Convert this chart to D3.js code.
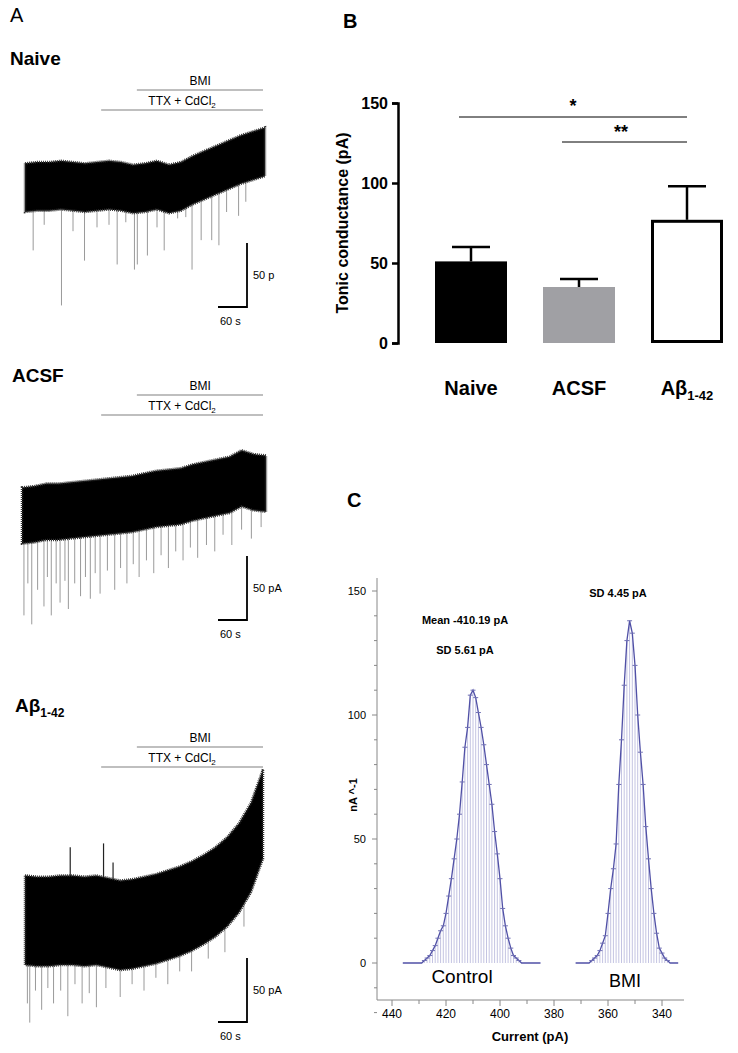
<!DOCTYPE html>
<html><head><meta charset="utf-8">
<script src="https://cdn.jsdelivr.net/npm/d3@7"></script>
<style>body{margin:0;background:#fff}svg{font-family:Arial,"Liberation Sans",sans-serif}</style>
</head><body>
<svg id="fig" width="738" height="1053"></svg>
<script>
// ---- panel A: traces (time in s, current in pA relative to trace base)
const traceTimes = [0, 25, 50, 75, 100, 125, 150, 175, 200, 225, 250, 275, 300, 325, 350, 375, 400, 425, 450, 475, 500];
const naiveMid = [19, 20, 20, 21, 20, 19, 20, 21, 20, 18, 19, 21, 18, 20, 25, 29, 33, 37, 41, 44, 47];
const acsfMid = [23, 24, 26, 26, 27, 28, 29, 30, 31, 32, 34, 36, 37, 38, 41, 43, 45, 47, 52, 49, 48];
const abetaMid = [35, 34, 34, 35, 35, 34, 35, 33, 31, 32, 34, 36, 39, 42, 46, 51, 57, 65, 76, 92, 118];
const halfWidths = [19, 22, 35];
// spikes: [time s, lowest pA]
const naiveSpikes = [[17,-30],[40,-10],[76,-73],[100,-15],[124,-38],[150,-12],[175,-10],[192,-41],[210,-8],[228,-45],[234,-41],[255,-34],[275,-12],[290,-30],[318,-5],[335,-4],[348,-45],[367,-22],[389,-22],[404,-26],[420,0],[445,-3],[460,8]];
const acsfSpikes = [[4,-55],[12,-30],[20,-62],[32,-35],[45,-48],[52,-25],[60,-55],[70,-30],[78,-45],[88,-28],[95,-50],[108,-30],[120,-40],[130,-25],[140,-42],[150,-22],[160,-38],[175,-20],[190,-35],[202,-18],[215,-30],[228,-15],[240,-25],[255,-12],[270,-22],[285,-8],[300,-18],[315,-5],[330,-12],[345,-2],[360,-10],[378,0],[395,-5],[412,8],[430,0],[450,12],[470,5],[490,14]];
const abetaSpikes = [[5,-30],[10,-45],[22,-20],[35,-35],[48,-18],[60,-30],[75,-20],[90,-40],[105,-15],[120,-30],[135,-22],[150,-33],[170,-18],[200,-25],[225,-15],[250,-20],[275,-10],[300,-15],[325,-5],[350,-5],[385,5],[420,10],[460,30]];
const abetaUp = [[95,92],[165,95],[185,80]];

// ---- panel B
const groups = ["Naive", "ACSF", "Aβ"];
const means = [51, 35, 77];
const sems = [9, 5, 21];
const barFills = ["#000", "#a0a0a4", "#fff"];
const yTicksB = [0, 50, 100, 150];

// ---- panel C: all-points histograms (1 pA bins)
const ctrlBins = d3.range(436, 384, -1);
const ctrlCounts = [0,0,0,0,0,0,0,0,1,2,3,5,7,10,13,15,20,27,34,42,50,60,73,87,95,108,110,107,101,95,88,80,72,64,53,44,34,22,15,10,6,3,2,1,0,0,0,0,0,0,0,0];
const bmiBins = d3.range(372, 333, -1);
const bmiCounts = [0,0,0,0,0,0,1,2,3,5,8,11,20,30,38,48,72,90,112,130,138,133,120,100,85,72,55,42,30,20,12,6,4,2,1,0,0,0,0];
const xTicksC = [440, 420, 400, 380, 360, 340];
const yTicksC = [0, 50, 100, 150];

const svg = d3.select("#fig");
const bold = (s, x, y, t, size, anchor) => s.append("text").attr("x", x).attr("y", y)
  .attr("font-size", size).attr("font-weight", "bold").attr("text-anchor", anchor || "start").text(t);

// panel labels
svg.append("text").attr("x", 10).attr("y", 22).attr("font-size", 20).text("A");
bold(svg, 343, 28, "B", 20);
bold(svg, 347, 507, "C", 20);

function drawTrace(cfg) {
  const g = svg.append("g");
  const x = d3.scaleLinear().domain([0, 500]).range([cfg.x0, cfg.x1]);
  const y = d3.scaleLinear().domain([0, 50]).range([cfg.base, cfg.base - 64]);
  const midAt = t => {
    const i = Math.min(traceTimes.length - 2, Math.floor(t / 25));
    return d3.interpolate(cfg.mid[i], cfg.mid[i + 1])((t - traceTimes[i]) / 25);
  };
  const lab = bold(g, cfg.lx, cfg.ly, cfg.label, 19);
  if (cfg.sub) lab.append("tspan").attr("font-size", 12).attr("dy", 5).text(cfg.sub);
  // drug bars
  const dx = d3.scaleLinear().domain([0, 500]).range([25, 263]);
  g.append("line").attr("x1", dx(235)).attr("x2", dx(500)).attr("y1", cfg.bmiY).attr("y2", cfg.bmiY).attr("stroke", "#aaa").attr("stroke-width", 1.5);
  g.append("line").attr("x1", dx(160)).attr("x2", dx(500)).attr("y1", cfg.bmiY + 20).attr("y2", cfg.bmiY + 20).attr("stroke", "#aaa").attr("stroke-width", 1.5);
  g.append("text").attr("x", dx(368)).attr("y", cfg.bmiY - 5).attr("text-anchor", "middle").attr("font-size", 12).text("BMI");
  const tt = g.append("text").attr("x", dx(330)).attr("y", cfg.bmiY + 15).attr("text-anchor", "middle").attr("font-size", 12).text("TTX + CdCl");
  tt.append("tspan").attr("font-size", 8).attr("dy", 3).text("2");
  // spikes
  cfg.spikes.forEach(s => g.append("line").attr("x1", x(s[0])).attr("x2", x(s[0]))
    .attr("y1", y(midAt(s[0]))).attr("y2", y(s[1])).attr("stroke", "#9a9a9a").attr("stroke-width", 1));
  (cfg.up || []).forEach(s => g.append("line").attr("x1", x(s[0])).attr("x2", x(s[0]))
    .attr("y1", y(midAt(s[0]))).attr("y2", y(s[1])).attr("stroke", "#222").attr("stroke-width", 1.2));
  // noise band
  const pts = traceTimes.map((t, i) => ({ t, m: cfg.mid[i] }));
  g.append("path").datum(pts)
    .attr("d", d3.area().x(d => x(d.t)).y0(d => y(d.m - cfg.hw)).y1(d => y(d.m + cfg.hw)).curve(d3.curveLinear))
    .attr("fill", "#000").attr("stroke", "#333").attr("stroke-width", 2.5).attr("stroke-dasharray", "1 1");
  // scale bar
  const sb = cfg.sbY;
  g.append("path").attr("d", `M247,${sb - 64}V${sb}H218`).attr("fill", "none").attr("stroke", "#000").attr("stroke-width", 1.8);
  g.append("text").attr("x", 253).attr("y", sb - 28).attr("font-size", 11).text(cfg.sbLabel);
  g.append("text").attr("x", 220).attr("y", sb + 18).attr("font-size", 11).text("60 s");
}

drawTrace({ label: "Naive", lx: 10, ly: 65, bmiY: 90, x0: 25, x1: 265, base: 212, mid: naiveMid, hw: halfWidths[0], spikes: naiveSpikes, sbY: 307, sbLabel: "50 p" });
drawTrace({ label: "ACSF", lx: 12, ly: 382, bmiY: 395, x0: 22, x1: 266, base: 545, mid: acsfMid, hw: halfWidths[1], spikes: acsfSpikes, sbY: 620, sbLabel: "50 pA" });
drawTrace({ label: "Aβ", sub: "1-42", lx: 15, ly: 712, bmiY: 747, x0: 25, x1: 263, base: 965, mid: abetaMid, hw: halfWidths[2], spikes: abetaSpikes, up: abetaUp, sbY: 1022, sbLabel: "50 pA" });

// ---- panel B
const gB = svg.append("g");
const xB = d3.scaleBand().domain(groups).range([399, 759]).paddingInner(1 / 3).paddingOuter(1 / 3);
const yB = d3.scaleLinear().domain([0, 150]).range([343, 103]);
gB.append("g").attr("transform", "translate(398,0)")
  .call(d3.axisLeft(yB).tickValues(yTicksB).tickSize(6).tickPadding(4))
  .call(a => a.select(".domain").attr("stroke-width", 2.5))
  .call(a => a.selectAll("line").attr("stroke-width", 2.5))
  .call(a => a.selectAll("text").attr("font-size", 16).attr("font-weight", "bold").attr("font-family", "Arial"));
groups.forEach((gname, i) => {
  const bx = xB(gname), bw = xB.bandwidth(), cx = bx + bw / 2, top = yB(means[i] + sems[i]);
  gB.append("line").attr("x1", cx).attr("x2", cx).attr("y1", yB(means[i])).attr("y2", top).attr("stroke", "#000").attr("stroke-width", 2.5);
  gB.append("line").attr("x1", cx - 19).attr("x2", cx + 19).attr("y1", top).attr("y2", top).attr("stroke", "#000").attr("stroke-width", 2.5);
  const inset = i === 2 ? 1.5 : 0;
  gB.append("rect").attr("x", bx + inset).attr("y", yB(means[i]) + inset).attr("width", bw - 2 * inset).attr("height", yB(0) - yB(means[i]) - 2 * inset)
    .attr("fill", barFills[i]).attr("stroke", i === 2 ? "#000" : "none").attr("stroke-width", 3);
  const t = bold(gB, cx, 395, gname, 20, "middle");
  if (i === 2) t.append("tspan").attr("font-size", 13).attr("dy", 5).text("1-42");
});
gB.append("line").attr("x1", 459).attr("x2", 687).attr("y1", 117).attr("y2", 117).attr("stroke", "#000");
gB.append("line").attr("x1", 562).attr("x2", 687).attr("y1", 142).attr("y2", 142).attr("stroke", "#000");
bold(gB, 573, 112, "*", 18, "middle");
bold(gB, 621, 138, "**", 18, "middle");
gB.append("text").attr("transform", "translate(348,223) rotate(-90)").attr("text-anchor", "middle")
  .attr("font-size", 16).attr("font-weight", "bold").text("Tonic conductance (pA)");

// ---- panel C
const gC = svg.append("g");
const xC = d3.scaleLinear().domain([445, 330]).range([378.5, 689]);
const yC = d3.scaleLinear().domain([0, 150]).range([963, 591]);
gC.append("line").attr("x1", 377).attr("x2", 377).attr("y1", 578).attr("y2", 1000).attr("stroke", "#888");
gC.append("line").attr("x1", 377).attr("x2", 684).attr("y1", 1000).attr("y2", 1000).attr("stroke", "#888");
d3.range(-20, 160, 10).forEach(v => gC.append("line").attr("x1", v % 50 === 0 ? 372 : 374).attr("x2", 377)
  .attr("y1", yC(v)).attr("y2", yC(v)).attr("stroke", "#888"));
yTicksC.forEach(v => gC.append("text").attr("x", 366).attr("y", yC(v) + 4).attr("text-anchor", "end").attr("font-size", 11).text(v));
d3.range(440, 330, -10).forEach(v => gC.append("line").attr("x1", xC(v)).attr("x2", xC(v)).attr("y1", 1000).attr("y2", v % 20 === 0 ? 1006 : 1004).attr("stroke", "#888"));
xTicksC.forEach(v => gC.append("text").attr("x", xC(v)).attr("y", 1018).attr("text-anchor", "middle").attr("font-size", 12).text(v));
bold(gC, 530, 1041, "Current (pA)", 13, "middle");
bold(gC, 0, 0, "nA ^-1", 11, "middle").attr("transform", "translate(357,795) rotate(-90)");

function hist(bins, counts) {
  const pts = bins.map((b, i) => [b, counts[i]]);
  pts.filter(p => p[1] > 0).forEach(p => gC.append("line").attr("x1", xC(p[0])).attr("x2", xC(p[0]))
    .attr("y1", yC(0)).attr("y2", yC(p[1])).attr("stroke", "#c4c4e2").attr("stroke-width", 1));
  gC.append("path").datum(pts).attr("d", d3.line().x(p => xC(p[0])).y(p => yC(p[1])))
    .attr("fill", "none").attr("stroke", "#5050a6").attr("stroke-width", 1.3);
  pts.filter(p => p[1] > 0).forEach(p => gC.append("line").attr("x1", xC(p[0]) - 2.5).attr("x2", xC(p[0]) + 2.5)
    .attr("y1", yC(p[1])).attr("y2", yC(p[1])).attr("stroke", "#7070b4").attr("stroke-width", 1));
}
hist(ctrlBins, ctrlCounts);
hist(bmiBins, bmiCounts);
bold(gC, 465, 624, "Mean -410.19 pA", 11, "middle");
bold(gC, 465, 654, "SD 5.61 pA", 11, "middle");
bold(gC, 618, 597, "SD 4.45 pA", 11, "middle");
gC.append("text").attr("x", 462).attr("y", 983).attr("text-anchor", "middle").attr("font-size", 19).text("Control");
gC.append("text").attr("x", 625).attr("y", 987).attr("text-anchor", "middle").attr("font-size", 18).text("BMI");
</script>
</body></html>
